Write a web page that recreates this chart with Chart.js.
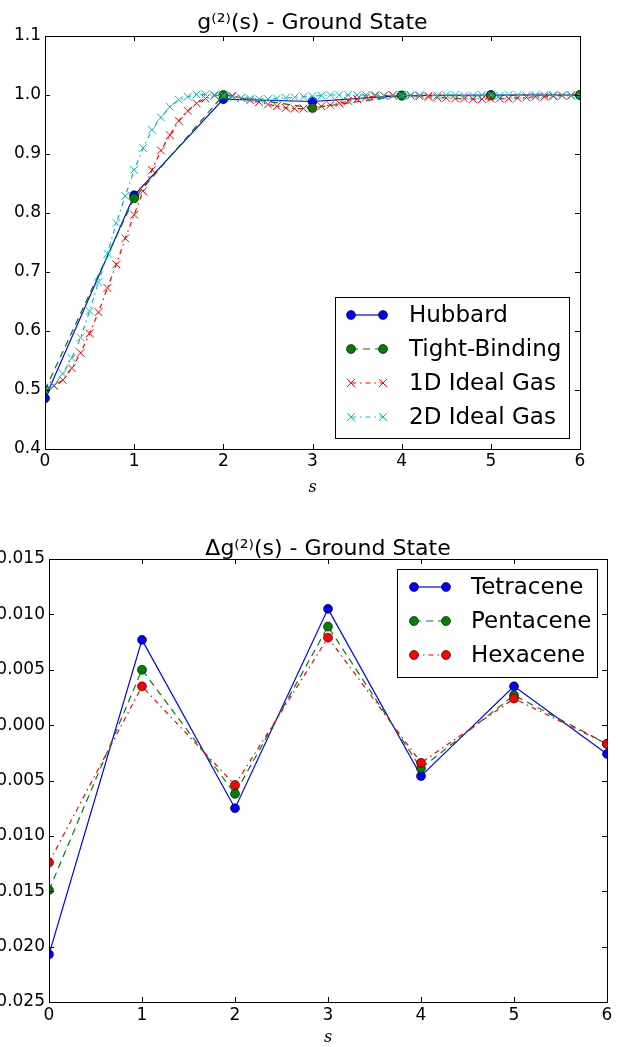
<!DOCTYPE html>
<html>
<head>
<meta charset="utf-8">
<script src="https://cdn.jsdelivr.net/npm/chart.js@4.4.1/dist/chart.umd.min.js"></script>
<style>
html,body{margin:0;padding:0;background:#fff;overflow:hidden;width:618px;height:1047px;}
#topChart{position:absolute;left:0;top:0;}
#bottomChart{position:absolute;left:-40px;top:520px;}
</style>
</head>
<body>
<canvas id="topChart" width="618" height="505"></canvas>
<canvas id="bottomChart" width="658" height="527"></canvas>
<script>
// ---- top panel: g2(s) ground state ----
const sCoarse = [0, 1, 2, 3, 4, 5, 6];
const hubbard = [0.486, 0.830, 0.993, 0.989, 0.999, 1.000, 1.000];
const tightBinding = [0.500, 0.825, 1.000, 0.978, 0.999, 0.999, 1.000];

const sFine = [0.0,0.1,0.2,0.3,0.4,0.5,0.6,0.7,0.8,0.9,
  1.0,1.1,1.2,1.3,1.4,1.5,1.6,1.7,1.8,1.9,
  2.0,2.1,2.2,2.3,2.4,2.5,2.6,2.7,2.8,2.9,
  3.0,3.1,3.2,3.3,3.4,3.5,3.6,3.7,3.8,3.9,
  4.0,4.1,4.2,4.3,4.4,4.5,4.6,4.7,4.8,4.9,
  5.0,5.1,5.2,5.3,5.4,5.5,5.6,5.7,5.8,5.9,6.0];
const idealGas1D = [0.500,0.507,0.517,0.537,0.563,0.596,0.632,0.673,0.713,0.757,
  0.797,0.837,0.873,0.906,0.932,0.956,0.973,0.986,0.994,0.999,
  1.000,0.999,0.995,0.991,0.988,0.984,0.981,0.978,0.977,0.977,
  0.979,0.981,0.983,0.986,0.990,0.993,0.996,0.998,0.999,1.000,
  1.000,0.999,0.998,0.997,0.996,0.995,0.994,0.994,0.993,0.993,
  0.994,0.994,0.994,0.995,0.996,0.997,0.997,0.998,0.999,0.999,1.000];
const idealGas2D = [0.500,0.508,0.528,0.554,0.589,0.634,0.683,0.731,0.783,0.829,
  0.873,0.910,0.941,0.962,0.980,0.992,0.997,1.001,1.001,1.000,
  0.999,0.997,0.995,0.994,0.993,0.993,0.994,0.995,0.996,0.997,
  0.998,0.999,1.000,1.000,1.000,1.000,1.000,1.000,0.999,0.999,
  0.999,1.000,1.000,0.999,0.999,1.000,1.000,0.999,0.999,1.000,
  1.000,0.999,1.000,1.000,0.999,1.000,1.000,1.000,0.999,1.000,1.000];
const topLabels = ['Hubbard', 'Tight-Binding', '1D Ideal Gas', '2D Ideal Gas'];

// ---- bottom panel: delta g2(s) ----
const sites = [0, 1, 2, 3, 4, 5, 6];
const tetracene = [-0.0207, 0.0077, -0.0075, 0.0105, -0.0046, 0.0035, -0.0026];
const pentacene = [-0.0149, 0.0050, -0.0062, 0.0089, -0.0039, 0.0027, -0.0017];
const hexacene = [-0.0124, 0.0035, -0.0054, 0.0079, -0.0034, 0.0024, -0.0017];
const bottomLabels = ['Tetracene', 'Pentacene', 'Hexacene'];

Chart.defaults.font.family = '"DejaVu Sans", sans-serif';
Chart.defaults.color = '#000';

function pts(xs, ys){
  return xs.map((x, i) => ({x: x, y: ys[i]}));
}

function drawMarker(ctx, style, x, y, r, fill, stroke){
  ctx.save();
  ctx.setLineDash([]);
  if(style === 'circle'){
    ctx.beginPath();
    ctx.arc(x, y, r, 0, Math.PI * 2);
    ctx.fillStyle = fill;
    ctx.fill();
    ctx.lineWidth = 0.6;
    ctx.strokeStyle = stroke;
    ctx.stroke();
  } else {
    const d = r * Math.SQRT1_2;
    ctx.beginPath();
    ctx.moveTo(x - d, y - d); ctx.lineTo(x + d, y + d);
    ctx.moveTo(x - d, y + d); ctx.lineTo(x + d, y - d);
    ctx.lineWidth = 1;
    ctx.strokeStyle = stroke;
    ctx.stroke();
  }
  ctx.restore();
}

// box + inward ticks on all four sides, like the old matplotlib style
const frameTicks = {
  id: 'frameTicks',
  afterDraw(chart){
    const {ctx, chartArea: a, scales} = chart;
    const len = 5;
    ctx.save();
    ctx.strokeStyle = '#000';
    ctx.lineWidth = 1;
    ctx.beginPath();
    scales.x.ticks.forEach(t => {
      const px = Math.round(scales.x.getPixelForValue(t.value)) + 0.5;
      ctx.moveTo(px, a.bottom); ctx.lineTo(px, a.bottom - len);
      ctx.moveTo(px, a.top); ctx.lineTo(px, a.top + len);
    });
    scales.y.ticks.forEach(t => {
      const py = Math.round(scales.y.getPixelForValue(t.value)) + 0.5;
      ctx.moveTo(a.left, py); ctx.lineTo(a.left + len, py);
      ctx.moveTo(a.right, py); ctx.lineTo(a.right - len, py);
    });
    ctx.stroke();
    ctx.strokeRect(Math.round(a.left) + 0.5, Math.round(a.top) + 0.5,
      Math.round(a.right - a.left), Math.round(a.bottom - a.top));
    ctx.restore();
  }
};

// legend drawn inside the plot area
const boxLegend = {
  id: 'boxLegend',
  afterDraw(chart, args, opts){
    const {ctx, chartArea: a} = chart;
    const x0 = a.right - opts.inset - opts.width;
    const y0 = opts.corner === 'bottom' ? a.bottom - opts.inset - opts.height : a.top + opts.inset;
    ctx.save();
    ctx.fillStyle = '#fff';
    ctx.fillRect(x0, y0, opts.width, opts.height);
    ctx.strokeStyle = '#000';
    ctx.lineWidth = 1;
    ctx.strokeRect(Math.round(x0) + 0.5, Math.round(y0) + 0.5, opts.width, opts.height);
    ctx.font = '23px "DejaVu Sans"';
    ctx.textBaseline = 'middle';
    ctx.textAlign = 'left';
    chart.data.datasets.forEach((ds, i) => {
      const y = y0 + opts.firstRow + i * opts.rowGap;
      const xa = x0 + opts.sampleLeft, xb = xa + opts.sampleLen;
      ctx.beginPath();
      ctx.setLineDash(ds.borderDash || []);
      ctx.strokeStyle = ds.borderColor;
      ctx.lineWidth = ds.borderWidth;
      ctx.moveTo(xa, y); ctx.lineTo(xb, y);
      ctx.stroke();
      ctx.setLineDash([]);
      drawMarker(ctx, ds.pointStyle, xa, y, ds.pointRadius, ds.pointBackgroundColor, ds.pointBorderColor);
      drawMarker(ctx, ds.pointStyle, xb, y, ds.pointRadius, ds.pointBackgroundColor, ds.pointBorderColor);
      ctx.fillStyle = '#000';
      ctx.fillText(ds.label, x0 + opts.textLeft, y + 1);
    });
    ctx.restore();
  }
};

function lineSet(label, data, color, dash, marker, order){
  const isDot = marker === 'circle';
  return {
    label: label,
    data: data,
    borderColor: color,
    backgroundColor: color,
    borderWidth: 1.2,
    borderDash: dash,
    pointStyle: marker,
    pointRadius: isDot ? 4.5 : 5.5,
    pointHoverRadius: isDot ? 4.5 : 5.5,
    pointBackgroundColor: color,
    pointBorderColor: isDot ? '#000' : color,
    pointBorderWidth: isDot ? 0.6 : 1,
    tension: 0,
    clip: 0,
    order: order
  };
}

const sTitle = {display: true, text: 's', font: {family: '"DejaVu Serif", serif', style: 'italic', size: 16}};

new Chart(document.getElementById('topChart').getContext('2d'), {
  type: 'line',
  data: {
    datasets: [
      lineSet(topLabels[0], pts(sCoarse, hubbard), '#0000ff', [], 'circle', 0),
      lineSet(topLabels[1], pts(sCoarse, tightBinding), '#008000', [7, 5], 'circle', -1),
      lineSet(topLabels[2], pts(sFine, idealGas1D), '#ff0000', [5, 4, 1.5, 4], 'crossRot', -2),
      lineSet(topLabels[3], pts(sFine, idealGas2D), '#00bfbf', [5, 4, 1.5, 4], 'crossRot', -3)
    ]
  },
  options: {
    responsive: false,
    animation: false,
    layout: {padding: {left: 0, right: 38, top: 0, bottom: 0}},
    plugins: {
      legend: {display: false},
      tooltip: {enabled: false},
      title: {display: true, fullSize: false, text: 'g\u207D\u00B2\u207E(s) - Ground State',
        font: {size: 22, weight: 'normal', lineHeight: 0.9}, padding: {top: 13.7, bottom: 2.5}},
      boxLegend: {corner: 'bottom', inset: 11, width: 234, height: 141, firstRow: 18, rowGap: 34,
        sampleLeft: 16, sampleLen: 32, textLeft: 74}
    },
    scales: {
      x: {type: 'linear', min: 0, max: 6,
        ticks: {stepSize: 1, padding: 2, font: {size: 17}, callback: v => String(v)},
        grid: {display: false, drawTicks: false}, border: {display: false},
        title: Object.assign({padding: {top: 0, bottom: 8}}, sTitle),
        afterFit: s => { s.height = 56; }},
      y: {type: 'linear', min: 0.4, max: 1.1,
        ticks: {stepSize: 0.1, padding: 4, font: {size: 17}, callback: v => v.toFixed(1)},
        grid: {display: false, drawTicks: false}, border: {display: false},
        afterFit: s => { s.width = 45; }}
    }
  },
  plugins: [frameTicks, boxLegend]
});

new Chart(document.getElementById('bottomChart').getContext('2d'), {
  type: 'line',
  data: {
    datasets: [
      lineSet(bottomLabels[0], pts(sites, tetracene), '#0000ff', [], 'circle', 0),
      lineSet(bottomLabels[1], pts(sites, pentacene), '#008000', [7, 5], 'circle', -1),
      lineSet(bottomLabels[2], pts(sites, hexacene), '#ff0000', [5, 4, 1.5, 4], 'circle', -2)
    ]
  },
  options: {
    responsive: false,
    animation: false,
    layout: {padding: {left: 0, right: 11, top: 0, bottom: 0}},
    plugins: {
      legend: {display: false},
      tooltip: {enabled: false},
      title: {display: true, fullSize: false, text: '\u0394g\u207D\u00B2\u207E(s) - Ground State',
        font: {size: 22, weight: 'normal', lineHeight: 0.9}, padding: {top: 19.2, bottom: 0}},
      boxLegend: {corner: 'top', inset: 10, width: 200, height: 108, firstRow: 18, rowGap: 34,
        sampleLeft: 17, sampleLen: 32, textLeft: 74}
    },
    scales: {
      x: {type: 'linear', min: 0, max: 6,
        ticks: {stepSize: 1, padding: 3, font: {size: 17}, callback: v => String(v)},
        grid: {display: false, drawTicks: false}, border: {display: false},
        title: Object.assign({padding: {top: 0, bottom: 0}}, sTitle),
        afterFit: s => { s.height = 45; }},
      y: {type: 'linear', min: -0.025, max: 0.015,
        ticks: {stepSize: 0.005, padding: 4, font: {size: 17},
          callback: v => Math.abs(v) < 1e-9 ? '0.000' : (v < 0 ? '\u2212' : '') + Math.abs(v).toFixed(3)},
        grid: {display: false, drawTicks: false}, border: {display: false},
        afterFit: s => { s.width = 89; }}
    }
  },
  plugins: [frameTicks, boxLegend]
});
</script>
</body>
</html>
